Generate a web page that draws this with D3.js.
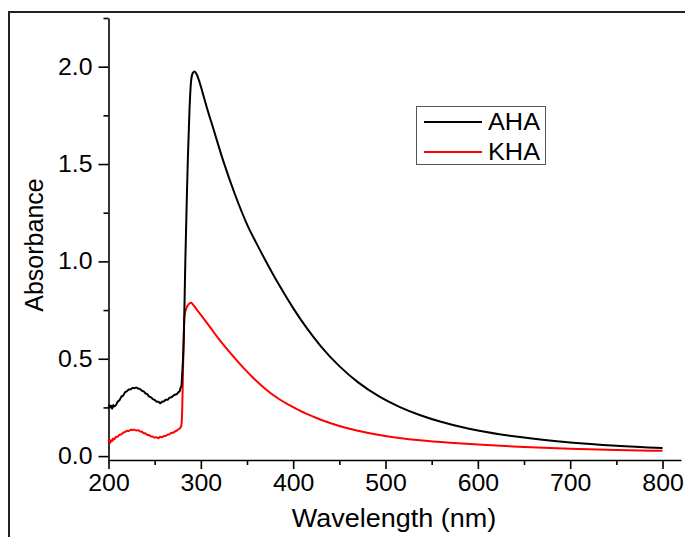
<!DOCTYPE html>
<html>
<head>
<meta charset="utf-8">
<script src="https://cdn.jsdelivr.net/npm/d3@7"></script>
<style>
  html, body { margin: 0; padding: 0; background: #fff; }
  text { font-family: "Liberation Sans", Arial, sans-serif; fill: #000; }
</style>
</head>
<body>
<div id="chart"></div>
<script>
const ahaWavelength = [200, 201, 202, 203, 204, 205, 206, 208, 210, 212, 214, 216, 218, 220, 222, 224, 226, 228, 230, 232, 234, 236, 238, 240, 242, 244, 246, 248, 250, 252, 254, 256, 258, 260, 262, 264, 266, 268, 270, 272, 274, 276, 277, 278, 279, 279.5, 280.5, 281.5, 282.3, 283.2, 284.1, 285, 285.9, 287.7, 289.5, 291, 293, 295, 298, 302, 307, 313, 324, 336.5, 351, 360, 370, 385, 400, 414, 430, 450, 470, 493.5, 515, 537, 560, 580, 600, 650, 700, 750, 800];
const ahaAbsorbance = [0.245, 0.262, 0.25, 0.258, 0.243, 0.262, 0.255, 0.262, 0.28, 0.288, 0.305, 0.312, 0.328, 0.333, 0.342, 0.343, 0.35, 0.349, 0.352, 0.347, 0.345, 0.336, 0.333, 0.322, 0.318, 0.306, 0.302, 0.292, 0.289, 0.28, 0.279, 0.272, 0.279, 0.281, 0.29, 0.289, 0.30, 0.302, 0.31, 0.315, 0.318, 0.33, 0.332, 0.35, 0.36, 0.40, 0.48, 0.60, 0.78, 1.0, 1.18, 1.36, 1.52, 1.777, 1.93, 1.965, 1.975, 1.965, 1.93, 1.865, 1.782, 1.69, 1.52, 1.35, 1.18, 1.095, 1.005, 0.877, 0.76, 0.662, 0.564, 0.462, 0.38, 0.305, 0.253, 0.211, 0.176, 0.152, 0.132, 0.095, 0.07, 0.053, 0.041];

const khaWavelength = [200, 201, 202, 203, 204, 205, 206, 208, 210, 212, 214, 216, 218, 220, 222, 224, 226, 228, 230, 232, 234, 236, 238, 240, 242, 244, 246, 248, 250, 252, 254, 256, 258, 260, 262, 264, 266, 268, 270, 272, 274, 276, 277, 278, 279, 279.7, 280.5, 281.3, 282.3, 284, 286, 289.5, 292, 296, 300, 310, 320, 330, 342, 356, 365, 375, 385, 396, 414, 430, 450, 470, 493.5, 515, 537, 570, 600, 650, 700, 750, 800];
const khaAbsorbance = [0.075, 0.088, 0.068, 0.082, 0.078, 0.09, 0.085, 0.098, 0.10, 0.11, 0.112, 0.121, 0.124, 0.13, 0.129, 0.136, 0.134, 0.136, 0.132, 0.133, 0.127, 0.125, 0.118, 0.116, 0.109, 0.107, 0.101, 0.10, 0.095, 0.097, 0.092, 0.099, 0.097, 0.103, 0.104, 0.11, 0.112, 0.119, 0.12, 0.127, 0.131, 0.138, 0.141, 0.148, 0.16, 0.22, 0.39, 0.58, 0.716, 0.755, 0.775, 0.787, 0.775, 0.75, 0.725, 0.662, 0.598, 0.54, 0.475, 0.405, 0.365, 0.325, 0.292, 0.262, 0.218, 0.187, 0.155, 0.13, 0.108, 0.093, 0.081, 0.068, 0.059, 0.047, 0.038, 0.031, 0.027];

const xMajorTicks = [200, 300, 400, 500, 600, 700, 800];
const xMinorTicks = [250, 350, 450, 550, 650, 750];
const yMajorTicks = [0.0, 0.5, 1.0, 1.5, 2.0];
const yMinorTicks = [0.25, 0.75, 1.25, 1.75, 2.25];

const seriesNames = ['AHA', 'KHA'];
const seriesColors = ['#000000', '#ff0000'];

const width = 685;
const height = 537;

// El original tiene el texto algo ensanchado horizontalmente
function widen(sel, factor) {
  sel.each(function() {
    const w = this.getComputedTextLength();
    d3.select(this)
      .attr('textLength', w * factor)
      .attr('lengthAdjust', 'spacingAndGlyphs');
  });
}

const svg = d3.select('#chart')
  .append('svg')
  .attr('width', width)
  .attr('height', height);

// Marco exterior (solo arriba e izquierda)
svg.append('line')
  .attr('x1', 8).attr('x2', width).attr('y1', 12).attr('y2', 12)
  .attr('stroke', '#222').attr('stroke-width', 2);
svg.append('line')
  .attr('x1', 9).attr('x2', 9).attr('y1', 12).attr('y2', height)
  .attr('stroke', '#222').attr('stroke-width', 2);

// Escalas
const x = d3.scaleLinear().domain([200, 820]).range([108.5, 681]);
const y = d3.scaleLinear().domain([-0.02, 2.25]).range([460, 18]);

const xAxisY = 460;
const yAxisX = 108.5;

// Ejes
const xAxis = svg.append('g')
  .attr('transform', `translate(0,${xAxisY})`)
  .call(d3.axisBottom(x).tickValues(xMajorTicks).tickSize(9).tickSizeOuter(0).tickPadding(6).tickFormat(d3.format('d')));
const xMinor = svg.append('g')
  .attr('transform', `translate(0,${xAxisY})`)
  .call(d3.axisBottom(x).tickValues(xMinorTicks).tickSize(5).tickSizeOuter(0).tickFormat(''));

const yAxis = svg.append('g')
  .attr('transform', `translate(${yAxisX},0)`)
  .call(d3.axisLeft(y).tickValues(yMajorTicks).tickSize(10).tickSizeOuter(0).tickPadding(6).tickFormat(d3.format('.1f')));
const yMinor = svg.append('g')
  .attr('transform', `translate(${yAxisX},0)`)
  .call(d3.axisLeft(y).tickValues(yMinorTicks).tickSize(5).tickSizeOuter(0).tickFormat(''));

[xAxis, xMinor, yAxis, yMinor].forEach(g => {
  g.select('.domain').attr('stroke', '#000').attr('stroke-width', 1.6);
  g.selectAll('.tick line').attr('stroke', '#000').attr('stroke-width', 1.6);
  g.selectAll('.tick text')
    .style('font-family', '"Liberation Sans", Arial, sans-serif')
    .style('font-size', '23px')
    .attr('fill', '#000');
});
xMinor.select('.domain').remove();
yMinor.select('.domain').remove();
widen(xAxis.selectAll('.tick text'), 1.08);
widen(yAxis.selectAll('.tick text'), 1.08);

// Títulos de ejes
const xTitle = svg.append('text')
  .attr('x', 394)
  .attr('y', 527)
  .attr('text-anchor', 'middle')
  .style('font-size', '25px')
  .text('Wavelength (nm)');
widen(xTitle, 1.08);

svg.append('text')
  .attr('transform', 'translate(43,245) rotate(-90)')
  .attr('text-anchor', 'middle')
  .style('font-size', '25px')
  .text('Absorbance');

// Curvas
const line = d3.line()
  .x(d => x(d[0]))
  .y(d => y(d[1]))
  .curve(d3.curveMonotoneX);

const seriesData = [
  d3.zip(ahaWavelength, ahaAbsorbance),
  d3.zip(khaWavelength, khaAbsorbance)
];

// KHA debajo, AHA encima
[1, 0].forEach(i => {
  svg.append('path')
    .datum(seriesData[i])
    .attr('fill', 'none')
    .attr('stroke', seriesColors[i])
    .attr('stroke-width', 2)
    .attr('stroke-linejoin', 'round')
    .attr('d', line);
});

// Leyenda
const legend = svg.append('g');
legend.append('rect')
  .attr('x', 416.5).attr('y', 106.5)
  .attr('width', 129).attr('height', 58)
  .attr('fill', '#fff')
  .attr('stroke', '#555')
  .attr('stroke-width', 1);

seriesNames.forEach((name, i) => {
  const ly = 122 + i * 30;
  legend.append('line')
    .attr('x1', 424).attr('x2', 482)
    .attr('y1', ly).attr('y2', ly)
    .attr('stroke', seriesColors[i])
    .attr('stroke-width', 2);
  const t = legend.append('text')
    .attr('x', 488)
    .attr('y', ly + 8)
    .style('font-size', '23px')
    .text(name);
  widen(t, 1.1);
});
</script>
</body>
</html>
